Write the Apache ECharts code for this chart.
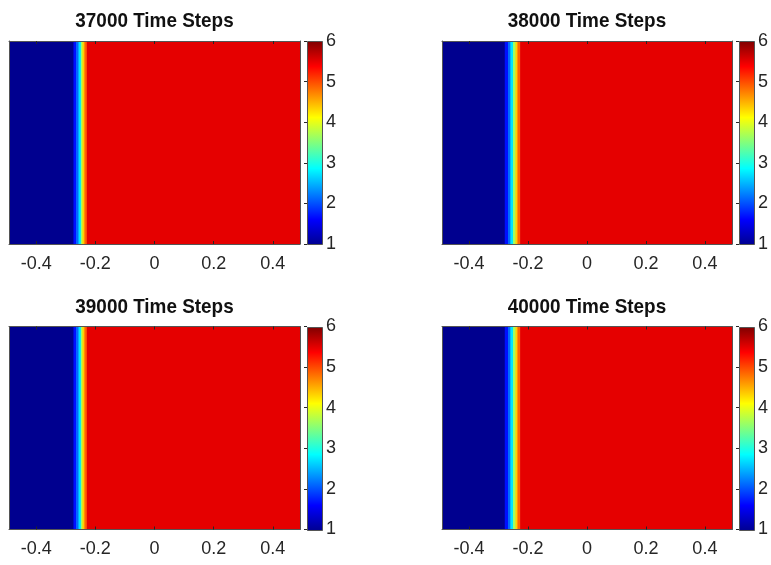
<!DOCTYPE html>
<html><head><meta charset="utf-8">
<script src="https://cdn.jsdelivr.net/npm/echarts@6/dist/echarts.min.js"></script>
<style>html,body{margin:0;padding:0;background:#fff}#c{width:771px;height:565px}</style>
</head><body><div id="c"></div>
<script>
// ---- data ----
const titles = ['37000 Time Steps', '38000 Time Steps', '39000 Time Steps', '40000 Time Steps'];
const xTicks = [-0.4, -0.2, 0, 0.2, 0.4];
const cbTicks = [1, 2, 3, 4, 5, 6];
const xRange = [-0.492, 0.492];
const cRange = [1, 6];
// column edges (x) and value in each column for each snapshot
const xEdges37000 = [-0.492, -0.274, -0.265, -0.257, -0.249, -0.244, -0.237, -0.229, 0.492];
const vals37000   = [1.0, 1.7, 2.15, 2.75, 3.65, 4.35, 4.9, 5.5];
const xEdges38000 = [-0.492, -0.279, -0.268, -0.260, -0.251, -0.243, -0.236, -0.227, 0.492];
const vals38000   = [1.0, 1.7, 2.15, 2.75, 3.65, 4.35, 4.9, 5.5];
const xEdges39000 = [-0.492, -0.274, -0.265, -0.257, -0.249, -0.244, -0.237, -0.229, 0.492];
const vals39000   = [1.0, 1.7, 2.15, 2.75, 3.65, 4.35, 4.9, 5.5];
const xEdges40000 = [-0.492, -0.279, -0.268, -0.260, -0.251, -0.243, -0.236, -0.227, 0.492];
const vals40000   = [1.0, 1.7, 2.15, 2.75, 3.65, 4.35, 4.9, 5.5];
const jet = ['#00008f', '#0000ff', '#007fff', '#00ffff', '#7fff7f', '#ffff00', '#ff7f00', '#ff0000', '#7f0000'];

// ---- layout ----
const panels = [
  {edges: xEdges37000, vals: vals37000, left: 9,   top: 41,    width: 291, cbLeft: 307},
  {edges: xEdges38000, vals: vals38000, left: 442, top: 41,    width: 290, cbLeft: 739},
  {edges: xEdges39000, vals: vals39000, left: 9,   top: 326.5, width: 291, cbLeft: 307},
  {edges: xEdges40000, vals: vals40000, left: 442, top: 326.5, width: 290, cbLeft: 739}
];
const H = 203, CBW = 16;
const FONT = "'Liberation Sans', Arial, Helvetica, sans-serif";
const TXT = '#262626', LINE = '#555';

const grid = [], xAxis = [], yAxis = [], series = [], graphic = [];
panels.forEach((p, i) => {
  const gMain = grid.length;
  grid.push({left: p.left, top: p.top, width: p.width, height: H});
  const gCb = grid.length;
  grid.push({left: p.cbLeft, top: p.top, width: CBW, height: H});

  const xb = xAxis.length;
  xAxis.push({gridIndex: gMain, type: 'value', position: 'bottom', min: xRange[0], max: xRange[1], z: 10,
    axisLine: {show: true, onZero: false, lineStyle: {color: LINE, width: 1}},
    axisTick: {show: true, inside: true, length: 3, customValues: xTicks, lineStyle: {color: TXT}},
    axisLabel: {show: true, customValues: xTicks, margin: 11, fontSize: 18, color: TXT, fontFamily: FONT,
      formatter: v => String(v)},
    splitLine: {show: false}});
  xAxis.push({gridIndex: gMain, type: 'value', position: 'top', min: xRange[0], max: xRange[1], z: 10,
    axisLine: {show: true, onZero: false, lineStyle: {color: LINE, width: 1}},
    axisTick: {show: true, inside: true, length: 3, customValues: xTicks, lineStyle: {color: TXT}},
    axisLabel: {show: false}, splitLine: {show: false}});
  const yl = yAxis.length;
  yAxis.push({gridIndex: gMain, type: 'value', position: 'left', min: 0, max: 1, z: 10,
    axisLine: {show: true, onZero: false, lineStyle: {color: LINE, width: 1}},
    axisTick: {show: false}, axisLabel: {show: false}, splitLine: {show: false}});
  yAxis.push({gridIndex: gMain, type: 'value', position: 'right', min: 0, max: 1, z: 10,
    axisLine: {show: true, onZero: false, lineStyle: {color: LINE, width: 1}},
    axisTick: {show: false}, axisLabel: {show: false}, splitLine: {show: false}});

  const cols = [];
  for (let k = 0; k < p.vals.length; k++) cols.push([p.edges[k], p.edges[k + 1], p.vals[k]]);
  series.push({type: 'custom', xAxisIndex: xb, yAxisIndex: yl, clip: true, silent: true,
    dimensions: ['x0', 'x1', 'v'], encode: {x: [0, 1], y: 2},
    data: cols,
    renderItem: (params, api) => {
      const a = api.coord([api.value(0), 1]);
      const b = api.coord([api.value(1), 0]);
      return {type: 'rect', shape: {x: a[0], y: a[1], width: b[0] - a[0] + 0.6, height: b[1] - a[1]},
        style: {fill: api.visual('color')}};
    }});

  // colorbar
  const xc = xAxis.length;
  xAxis.push({gridIndex: gCb, type: 'value', min: 0, max: 1, show: false});
  const yc = yAxis.length;
  yAxis.push({gridIndex: gCb, type: 'value', position: 'right', min: cRange[0], max: cRange[1], interval: 1, z: 10,
    axisLine: {show: false},
    axisTick: {show: true, inside: true, length: 3, lineStyle: {color: TXT}},
    axisLabel: {show: true, margin: 3, fontSize: 18, color: TXT, fontFamily: FONT},
    splitLine: {show: false}});
  series.push({type: 'custom', xAxisIndex: xc, yAxisIndex: yc, silent: true,
    data: [[0, cRange[0], 1, cRange[1]]],
    renderItem: (params, api) => {
      const a = api.coord([api.value(0), api.value(3)]);
      const b = api.coord([api.value(2), api.value(1)]);
      const stops = jet.map((c, j) => ({offset: j / (jet.length - 1), color: c}));
      return {type: 'rect',
        shape: {x: Math.round(a[0]) + 0.5, y: Math.round(a[1]) + 0.5, width: Math.round(b[0] - a[0]) - 1, height: Math.round(b[1] - a[1])},
        style: {fill: new echarts.graphic.LinearGradient(0, 1, 0, 0, stops), stroke: LINE, lineWidth: 1}};
    }});

  graphic.push({type: 'text', x: p.left + p.width / 2, y: p.top - 19.5, scaleX: 0.9,
    style: {text: titles[i], align: 'center', verticalAlign: 'middle', font: 'bold 21px ' + FONT, fill: '#111'}});
});

const chart = echarts.init(document.getElementById('c'), null, {renderer: 'canvas'});
chart.setOption({
  animation: false,
  backgroundColor: '#fff',
  grid, xAxis, yAxis, series, graphic,
  visualMap: [{type: 'continuous', show: false, seriesIndex: [0, 2, 4, 6], dimension: 2,
    min: cRange[0], max: cRange[1], inRange: {color: jet}}]
});
</script></body></html>
